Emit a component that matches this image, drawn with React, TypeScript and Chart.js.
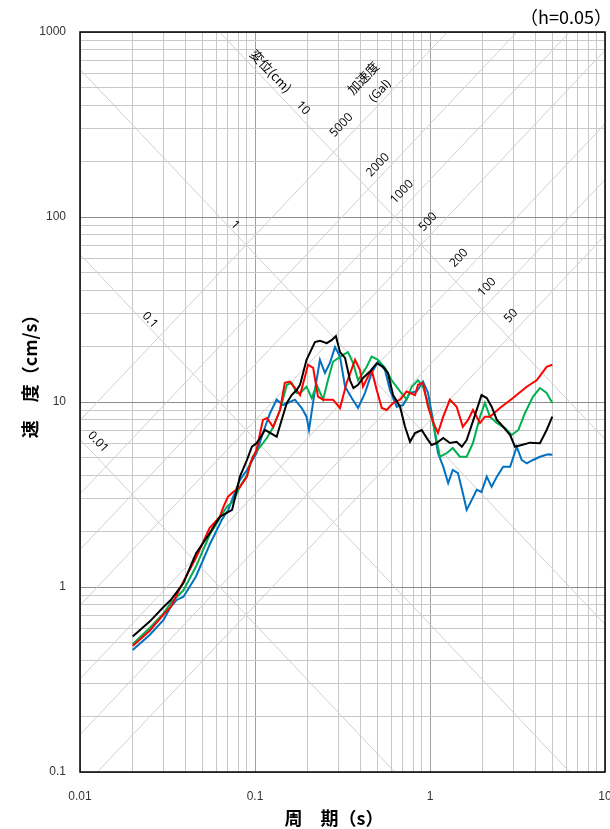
import React, { useEffect, useRef } from 'react';
import { Chart, registerables } from 'chart.js';
Chart.register(...registerables);

// ---- data: period (s) and pseudo-velocity (cm/s) ----
const blackT = [0.02,0.025,0.03,0.033,0.039,0.046,0.055,0.063,0.074,0.082,0.09,0.096,0.102,0.107,0.114,0.122,0.133,0.142,0.152,0.162,0.173,0.181,0.197,0.22,0.235,0.257,0.274,0.29,0.306,0.327,0.349,0.365,0.388,0.414,0.454,0.496,0.539,0.575,0.615,0.674,0.72,0.769,0.821,0.897,0.957,1.02,1.09,1.19,1.3,1.42,1.52,1.62,1.77,1.97,2.11,2.25,2.41,2.62,2.87,3.06,3.34,3.73,4.25,4.64,5.0];
const blackV = [0.54,0.65,0.78,0.85,1.05,1.52,1.95,2.4,2.61,3.95,4.86,5.73,5.98,6.39,7.06,6.8,6.49,8.0,9.88,10.9,11.6,12.4,16.9,21.1,21.4,20.8,21.6,22.7,18.6,17.3,13.1,11.9,12.4,13.5,14.6,16.2,15.5,14.35,10.9,9.43,7.35,6.1,6.8,7.06,6.39,5.86,6.0,6.39,6.0,6.1,5.73,6.23,8.0,10.9,10.5,9.43,8.0,7.35,6.63,5.73,5.86,6.03,5.98,7.06,8.33];

const redT = [0.02,0.025,0.03,0.033,0.039,0.046,0.055,0.063,0.066,0.07,0.075,0.082,0.09,0.094,0.102,0.111,0.117,0.127,0.139,0.148,0.158,0.173,0.181,0.201,0.215,0.229,0.245,0.279,0.306,0.334,0.373,0.398,0.414,0.442,0.464,0.496,0.53,0.566,0.615,0.674,0.736,0.821,0.854,0.912,0.974,1.04,1.11,1.19,1.3,1.42,1.54,1.65,1.76,1.93,2.06,2.2,2.51,2.98,3.57,4.07,4.64,5.0];
const redV = [0.48,0.58,0.71,0.78,1.07,1.44,2.08,2.4,2.71,3.07,3.26,3.47,3.95,4.68,5.5,8.0,8.19,7.32,9.05,12.7,12.9,11.6,10.9,15.9,15.3,10.7,10.3,10.3,9.28,12.7,16.9,14.9,12.1,13.7,14.9,11.6,9.28,9.05,9.88,10.3,11.4,10.9,12.4,12.7,9.43,7.83,6.8,8.33,10.3,9.43,7.35,8.0,9.05,7.7,8.33,8.33,9.28,10.5,12.1,13.1,15.5,15.9];

const greenT = [0.02,0.025,0.03,0.033,0.039,0.046,0.055,0.063,0.069,0.075,0.082,0.09,0.097,0.107,0.117,0.127,0.139,0.152,0.162,0.173,0.181,0.197,0.211,0.225,0.245,0.261,0.279,0.313,0.34,0.363,0.388,0.435,0.464,0.504,0.553,0.604,0.674,0.736,0.786,0.854,0.912,0.974,1.04,1.14,1.25,1.35,1.48,1.62,1.76,1.93,2.06,2.2,2.41,2.68,2.93,3.2,3.49,3.88,4.25,4.64,5.0];
const greenV = [0.49,0.6,0.72,0.82,0.96,1.29,1.91,2.36,2.72,2.89,3.48,4.03,5.06,5.73,6.39,7.32,9.05,12.4,12.7,11.2,11.2,12.1,10.5,12.4,10.3,13.1,16.5,17.8,18.6,16.3,13.1,15.5,17.6,16.9,15.3,13.1,11.4,10.3,12.1,13.1,12.1,9.88,7.7,5.06,5.3,5.64,5.06,5.06,6.0,8.33,9.88,8.33,7.7,7.23,6.63,7.06,8.72,10.7,11.9,11.2,9.88];

const blueT = [0.02,0.025,0.03,0.033,0.0357,0.039,0.046,0.055,0.0645,0.0703,0.075,0.082,0.09,0.102,0.111,0.122,0.133,0.1445,0.154,0.169,0.185,0.197,0.2035,0.22,0.235,0.251,0.268,0.2865,0.306,0.327,0.357,0.388,0.4255,0.464,0.504,0.553,0.591,0.645,0.701,0.769,0.84,0.912,0.974,1.04,1.11,1.19,1.27,1.35,1.445,1.54,1.62,1.73,1.85,1.97,2.11,2.25,2.41,2.62,2.87,3.13,3.34,3.57,3.88,4.25,4.72,5.0];
const blueV = [0.456,0.55,0.663,0.782,0.851,0.886,1.14,1.69,2.3,2.61,3.07,3.79,4.29,5.3,6.8,8.72,10.3,9.63,9.88,10.3,9.28,8.33,7.06,11.6,16.9,14.35,16.25,19.8,17.6,12.1,10.5,9.28,11.2,14.35,16.5,14.9,11.6,9.43,9.63,11.2,11.4,12.9,11.2,8.0,5.3,4.47,3.65,4.29,4.13,3.22,2.61,2.95,3.35,3.27,3.95,3.48,3.95,4.47,4.47,5.73,4.86,4.66,4.86,5.06,5.21,5.18];

// ---- axes ----
const xMin = 0.01, xMax = 10;
const yMin = 0.1, yMax = 1000;
const xTickLabels = ['0.01', '0.1', '1', '10'];
const yTickLabels = ['0.1', '1', '10', '100', '1000'];

// ---- tripartite reference lines ----
const dispLines = [0.01, 0.1, 1, 10];           // cm
const accelLines = [50, 100, 200, 500, 1000, 2000, 5000]; // Gal

const dispLabelText = ['変位(cm)', '10', '1', '0.1', '0.01'];
const dispLabelT = [0.1234, 0.188, 0.0769, 0.0251, 0.01267];
const dispLabelV = [615, 388, 90.5, 27.7, 6.08];

const accelLabelText = ['加速度', '(Gal)', '5000', '2000', '1000', '500', '200', '100', '50'];
const accelLabelT = [0.414, 0.518, 0.312, 0.504, 0.692, 0.974, 1.465, 2.117, 2.903];
const accelLabelV = [564, 480, 314, 191, 136.5, 94, 60, 41.8, 29.2];

const dampingLabel = '（h=0.05）';
const xTitle = '周　期（s）';
const yTitle = '速　度（cm/s）';

const seriesColors = ['#000000', '#ff0000', '#00b050', '#0070c0'];

function gridValues(min: number, max: number): number[] {
  const out: number[] = [];
  const k0 = Math.round(Math.log10(min));
  const k1 = Math.round(Math.log10(max));
  for (let k = k0; k < k1; k++) {
    for (let m = 1; m <= 9; m++) out.push(parseFloat((m * Math.pow(10, k)).toPrecision(6)));
  }
  out.push(max);
  return out;
}
const isDecade = (v: number) => Math.abs(Math.log10(v) - Math.round(Math.log10(v))) < 1e-6;
const labelFor = (v: number, labels: string[]) => {
  if (!isDecade(v)) return '';
  const s = labels.find((l) => Math.abs(parseFloat(l) - v) < v * 1e-6);
  return s ?? '';
};

const tripartitePlugin = {
  id: 'tripartite',
  beforeDatasetsDraw(chart: any) {
    const { ctx, chartArea, scales } = chart;
    const x = scales.x, y = scales.y;
    const { left, right, top, bottom } = chartArea;
    ctx.save();
    ctx.beginPath();
    ctx.rect(left, top, right - left, bottom - top);
    ctx.clip();
    ctx.strokeStyle = '#d0d0d0';
    ctx.lineWidth = 1;
    for (const d of dispLines) {
      const v0 = (2 * Math.PI * d) / xMin, v1 = (2 * Math.PI * d) / xMax;
      ctx.beginPath();
      ctx.moveTo(x.getPixelForValue(xMin), y.getPixelForValue(v0));
      ctx.lineTo(x.getPixelForValue(xMax), y.getPixelForValue(v1));
      ctx.stroke();
    }
    for (const a of accelLines) {
      const v0 = (a * xMin) / (2 * Math.PI), v1 = (a * xMax) / (2 * Math.PI);
      ctx.beginPath();
      ctx.moveTo(x.getPixelForValue(xMin), y.getPixelForValue(v0));
      ctx.lineTo(x.getPixelForValue(xMax), y.getPixelForValue(v1));
      ctx.stroke();
    }
    ctx.restore();

    // labels
    const ang = Math.atan2(
      y.getPixelForValue(1) - y.getPixelForValue(10),
      x.getPixelForValue(10) - x.getPixelForValue(1)
    );
    ctx.save();
    ctx.fillStyle = '#000';
    ctx.textAlign = 'center';
    ctx.textBaseline = 'middle';
    const drawLbl = (text: string, t: number, v: number, rot: number) => {
      const px = x.getPixelForValue(t), py = y.getPixelForValue(v);
      ctx.save();
      ctx.translate(px, py);
      ctx.rotate(rot);
      ctx.font = /[^\x00-\x7f]/.test(text) ? "13px 'Noto Sans CJK JP'" : "12px 'Open Sans', 'Noto Sans', sans-serif";
      ctx.fillText(text, 0, 0);
      ctx.restore();
    };
    dispLabelText.forEach((s, i) => drawLbl(s, dispLabelT[i], dispLabelV[i], ang));
    accelLabelText.forEach((s, i) => drawLbl(s, accelLabelT[i], accelLabelV[i], -ang));
    ctx.restore();
  },
  afterDraw(chart: any) {
    const { ctx, chartArea } = chart;
    const { left, right, top, bottom } = chartArea;
    ctx.save();
    ctx.strokeStyle = '#000';
    ctx.lineWidth = 1.5;
    ctx.strokeRect(left, top, right - left, bottom - top);

    ctx.fillStyle = '#000';
    ctx.textBaseline = 'middle';
    ctx.font = "18px 'Noto Sans CJK JP'";
    ctx.textAlign = 'right';
    ctx.fillText(dampingLabel, 612, 17);

    ctx.font = "bold 18px 'Noto Sans CJK JP'";
    ctx.textAlign = 'center';
    ctx.fillText(xTitle, 334, 818);

    ctx.save();
    ctx.translate(30, 372);
    ctx.rotate(-Math.PI / 2);
    ctx.fillText(yTitle, 0, 0);
    ctx.restore();
    ctx.restore();
  },
};

const tickFont = { family: "'Liberation Sans', Arial, sans-serif", size: 12 };

export default function App() {
  const ref = useRef<HTMLCanvasElement | null>(null);
  useEffect(() => {
    if (!ref.current) return;
    const mk = (T: number[], V: number[]) => T.map((t, i) => ({ x: t, y: V[i] }));
    const chart = new Chart(ref.current, {
      type: 'line',
      data: {
        datasets: [
          { label: 'black', data: mk(blackT, blackV), borderColor: seriesColors[0] },
          { label: 'red', data: mk(redT, redV), borderColor: seriesColors[1] },
          { label: 'green', data: mk(greenT, greenV), borderColor: seriesColors[2] },
          { label: 'blue', data: mk(blueT, blueV), borderColor: seriesColors[3] },
        ],
      },
      options: {
        responsive: false,
        animation: false,
        devicePixelRatio: 1,
        layout: { padding: { left: 0, right: 5, top: 32, bottom: 0 } },
        elements: {
          point: { radius: 0 },
          line: { borderWidth: 2, tension: 0, fill: false },
        },
        plugins: { legend: { display: false }, tooltip: { enabled: false } },
        scales: {
          x: {
            type: 'logarithmic',
            min: xMin,
            max: xMax,
            afterBuildTicks: (s: any) => {
              s.ticks = gridValues(xMin, xMax).map((v) => ({ value: v }));
            },
            afterFit: (s: any) => {
              s.height = 57;
              s.paddingLeft = 0;
              s.paddingRight = 0;
            },
            border: { display: false },
            grid: {
              drawTicks: false,
              lineWidth: 1,
              color: (c: any) => (c.tick && isDecade(c.tick.value) ? '#a0a0a0' : '#c8c8c8'),
            },
            ticks: {
              autoSkip: false,
              maxRotation: 0,
              minRotation: 0,
              padding: 17,
              color: '#333',
              font: tickFont,
              callback: (v: any) => labelFor(Number(v), xTickLabels),
            },
          },
          y: {
            type: 'logarithmic',
            min: yMin,
            max: yMax,
            afterBuildTicks: (s: any) => {
              s.ticks = gridValues(yMin, yMax).map((v) => ({ value: v }));
            },
            afterFit: (s: any) => {
              s.width = 80;
              s.paddingTop = 0;
              s.paddingBottom = 0;
            },
            border: { display: false },
            grid: {
              drawTicks: false,
              lineWidth: 1,
              color: (c: any) => (c.tick && isDecade(c.tick.value) ? '#8c8c8c' : '#c8c8c8'),
            },
            ticks: {
              autoSkip: false,
              padding: 14,
              color: '#333',
              font: tickFont,
              callback: (v: any) => labelFor(Number(v), yTickLabels),
            },
          },
        },
      },
      plugins: [tripartitePlugin],
    } as any);
    return () => chart.destroy();
  }, []);
  return (
    <div style={{ position: 'absolute', left: 0, top: 0, width: 610, height: 829 }}>
      <canvas ref={ref} width={610} height={829} style={{ display: 'block' }} />
    </div>
  );
}
